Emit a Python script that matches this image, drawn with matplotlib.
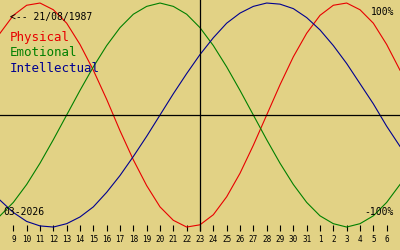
import matplotlib
matplotlib.use('Agg')
import matplotlib.pyplot as plt

# Days shown on the chart (8 March 2026 .. 7 April 2026)
days = [8, 9, 10, 11, 12, 13, 14, 15, 16, 17, 18, 19, 20, 21, 22, 23, 24, 25, 26,
        27, 28, 29, 30, 31, 1, 2, 3, 4, 5, 6, 7]

# Cycle values, -1 .. 1
physical = [0.73, 0.89, 0.98, 1.00, 0.94, 0.82, 0.63, 0.40, 0.14, -0.14, -0.40,
            -0.63, -0.82, -0.94, -1.00, -0.98, -0.89, -0.73, -0.52, -0.27, 0.00,
            0.27, 0.52, 0.73, 0.89, 0.98, 1.00, 0.94, 0.82, 0.63, 0.40]
emotional = [-0.90, -0.78, -0.62, -0.43, -0.22, 0.00, 0.22, 0.43, 0.62, 0.78, 0.90,
             0.97, 1.00, 0.97, 0.90, 0.78, 0.62, 0.43, 0.22, 0.00, -0.22, -0.43,
             -0.62, -0.78, -0.90, -0.97, -1.00, -0.97, -0.90, -0.78, -0.62]
intellectual = [-0.76, -0.87, -0.95, -0.99, -1.00, -0.97, -0.91, -0.82, -0.69, -0.54,
                -0.37, -0.19, 0.00, 0.19, 0.37, 0.54, 0.69, 0.82, 0.91, 0.97, 1.00,
                0.99, 0.95, 0.87, 0.76, 0.62, 0.46, 0.28, 0.10, -0.10, -0.28]

birth_date = '21/08/1987'
month_label = '03-2026'
today_index = 15   # 23 March

bg = '#e2d285'
red = '#e80000'
green = '#008000'
blue = '#000090'
mono = 'DejaVu Sans Mono'

fig = plt.figure(figsize=(4, 2.5), dpi=100, facecolor=bg)
ax = fig.add_axes([0, 0, 1, 1], facecolor=bg)

x = list(range(len(days)))
ax.plot(x, physical, color=red, linewidth=0.8)
ax.plot(x, emotional, color=green, linewidth=0.8)
ax.plot(x, intellectual, color=blue, linewidth=0.8)

# axes cross
ax.axhline(0, color='black', linewidth=0.9)
ax.vlines(today_index, -1.036, 1.1, color='black', linewidth=0.9)

ax.set_xlim(0, len(days) - 1)
ax.set_ylim(-1.205, 1.027)

# day ticks along the bottom
for s in ['top', 'right', 'left', 'bottom']:
    ax.spines[s].set_visible(False)
ax.spines['bottom'].set_position(('data', -1.036))
ax.set_xticks(x[1:-1])
ax.set_xticklabels([str(d) for d in days[1:-1]], fontfamily=mono)
ax.tick_params(axis='x', direction='in', length=4.5, width=0.8, pad=2.8,
               labelsize=5.5, colors='black')
ax.set_yticks([])

tr = ax.transAxes
ax.text(0.025, 0.932, '<-- ' + birth_date, transform=tr, fontsize=7,
        family=mono, va='center', ha='left')
ax.text(0.025, 0.848, 'Physical', transform=tr, fontsize=9, family=mono,
        color=red, va='center', ha='left')
ax.text(0.025, 0.788, 'Emotional', transform=tr, fontsize=9, family=mono,
        color=green, va='center', ha='left')
ax.text(0.025, 0.728, 'Intellectual', transform=tr, fontsize=9, family=mono,
        color=blue, va='center', ha='left')
ax.text(0.985, 0.952, '100%', transform=tr, fontsize=7, family=mono,
        va='center', ha='right')
ax.text(0.985, 0.152, '-100%', transform=tr, fontsize=7, family=mono,
        va='center', ha='right')
ax.text(0.0075, 0.152, month_label, transform=tr, fontsize=7, family=mono,
        va='center', ha='left')

fig.savefig('out.png', dpi=100, facecolor=bg)
